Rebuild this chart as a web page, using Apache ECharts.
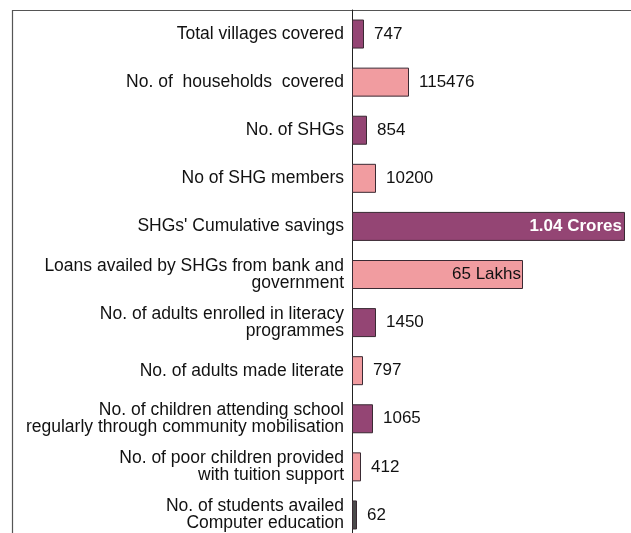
<!DOCTYPE html>
<html>
<head>
<meta charset="utf-8">
<script src="https://cdn.jsdelivr.net/npm/echarts@6/dist/echarts.min.js"></script>
<style>
  html, body { margin: 0; padding: 0; background: #fff; }
  #chart { width: 631px; height: 533px; }
</style>
</head>
<body>
<div id="chart"></div>
<script>
// categories, top to bottom
const categories = [
  "Total villages covered",
  "No. of  households  covered",
  "No. of SHGs",
  "No of SHG members",
  "SHGs' Cumulative savings",
  "Loans availed by SHGs from bank and\ngovernment",
  "No. of adults enrolled in literacy\nprogrammes",
  "No. of adults made literate",
  "No. of children attending school\nregularly through community mobilisation",
  "No. of poor children provided\nwith tuition support",
  "No. of students availed\nComputer education"
];
// bar lengths as drawn (relative scale, not proportional to the figures)
const barLength = [12, 57, 15, 24, 273, 171, 24, 11, 21, 9, 5];
// the figures printed next to each bar
const valueLabels = ["747", "115476", "854", "10200", "1.04 Crores", "65 Lakhs",
  "1450", "797", "1065", "412", "62"];
const barColors = ["#944574", "#f19ca0", "#944574", "#f19ca0", "#944574", "#f19ca0",
  "#944574", "#f19ca0", "#944574", "#f19ca0", "#4a4a4a"];

let myChart = echarts.init(document.getElementById("chart"));

let seriesData = barLength.map((v, i) => {
  let item = {
    value: v,
    itemStyle: { color: barColors[i] }
  };
  if (i === 4) {
    item.label = { position: "insideRight", distance: 3, color: "#ffffff", fontWeight: "bold" };
  } else if (i === 5) {
    item.label = { position: "insideRight", distance: 2 };
  }
  return item;
});

myChart.setOption({
  animation: false,
  textStyle: { fontFamily: "Liberation Sans, Arial, sans-serif" },
  graphic: [
    {
      type: "rect",
      shape: { x: 12.5, y: 10.5, width: 700, height: 600 },
      style: { fill: "none", stroke: "#555", lineWidth: 1.2 },
      silent: true
    }
  ],
  grid: {
    left: 352,
    right: 0,
    top: 10,
    height: 529,
    outerBoundsMode: "none"
  },
  xAxis: {
    type: "value",
    min: 0,
    max: 279,
    show: false
  },
  yAxis: {
    type: "category",
    inverse: true,
    data: categories,
    axisLine: { lineStyle: { color: "#222", width: 1 } },
    axisTick: { length: 4, lineStyle: { color: "#222" } },
    axisLabel: {
      color: "#111",
      fontSize: 17.5,
      lineHeight: 17,
      margin: 8,
      align: "right"
    }
  },
  series: [
    {
      type: "bar",
      barWidth: 29,
      data: seriesData,
      itemStyle: { borderColor: "#3a2a33", borderWidth: 1 },
      label: {
        show: true,
        position: "right",
        distance: 10,
        color: "#111",
        fontSize: 17,
        formatter: p => valueLabels[p.dataIndex]
      }
    }
  ]
});
</script>
</body>
</html>
